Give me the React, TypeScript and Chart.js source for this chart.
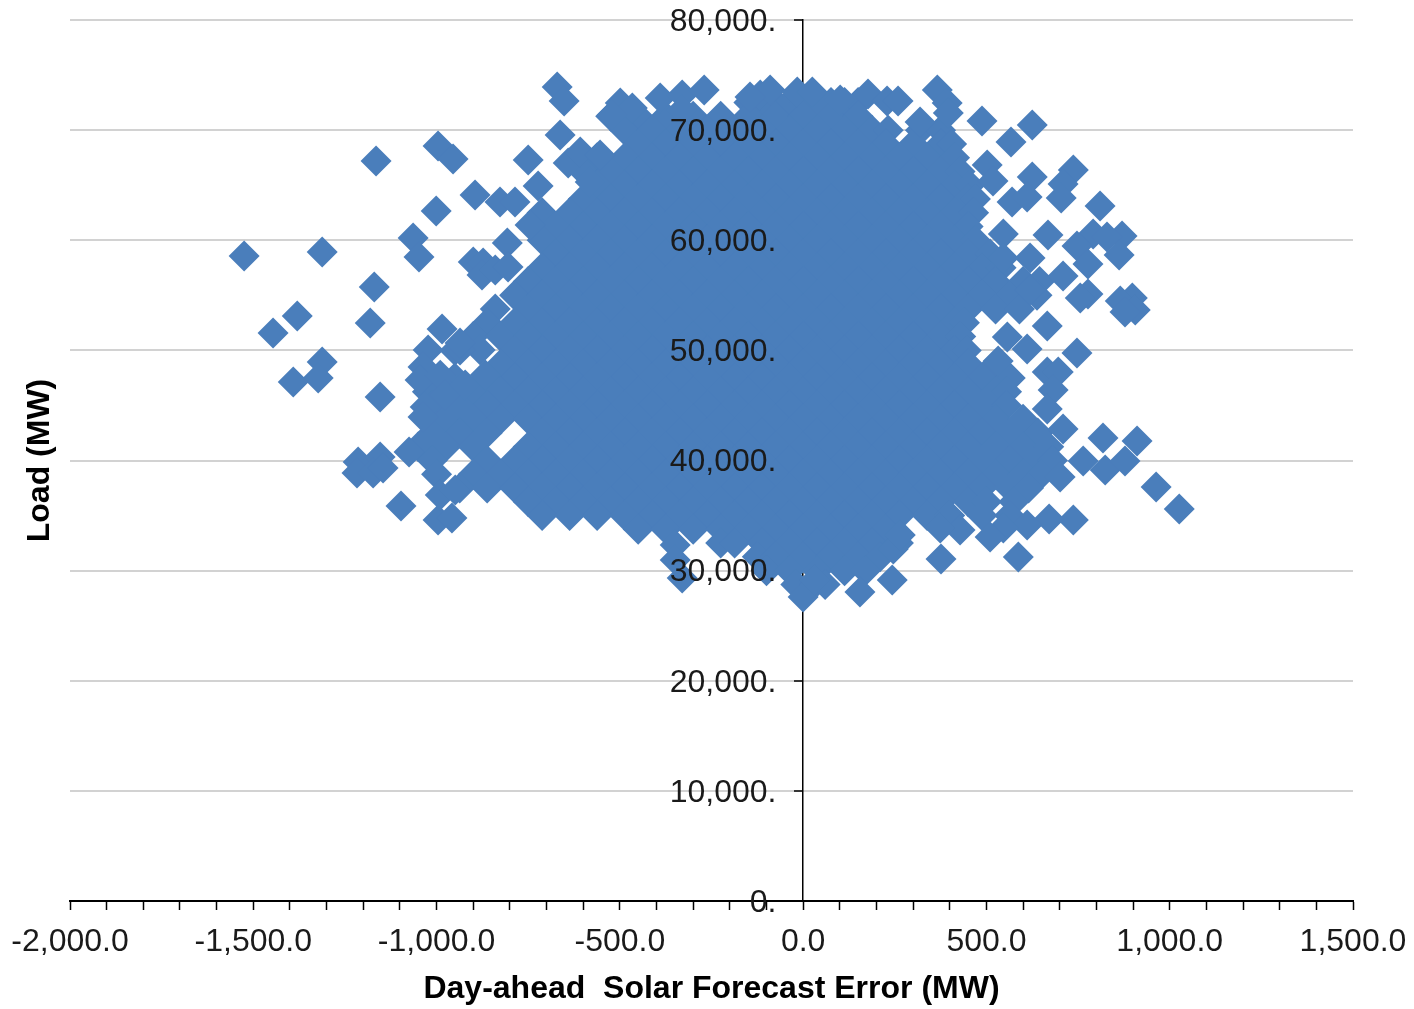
import React, { useEffect, useRef } from "react";
import { Chart, registerables } from "chart.js";

Chart.register(...registerables);

const xTickValues = [-2000, -1500, -1000, -500, 0, 500, 1000, 1500];
const xTitle = "Day-ahead  Solar Forecast Error (MW)";
const yTitle = "Load (MW)";

const edgeErrors = [
  -1525, -1312, -1165, -996, -955, -1001, -1064, -1048, -1170, -1181, -1380, -1446, -1312, -1323, -1391, -1154, -1097, -996, -958,
  -671, -652, -663, -750, -723, -895, -827, -786, -807, -900, -873, -876, -840, -805, -1214, -1217, -1154, -1173, -1146, -1075, -985,
  -499, -466, -521, -390, -330, -270, -330, -641, -608, -554, -581, -349, -349, -330, -745,
  -117, -90, -145, -16, 25, 101, 177, 229, 259, 366, 393, 396, 319, 0, 33, 155, 243, 246, 265,
  488, 625, 567, 737, 709, 704, 810, 625, 502, 518, 570, 611, 668, 870, 791, 747, 829, 862, 777, 709, 777, 756, 898, 865, 906, 878,
  666, 619, 747, 611, 557, 532, 666, 696, 682, 666, 709, 818, 911, 764, 824, 878, 701, 963, 1026, 737, 671, 611, 546, 510, 428, 374,
  376, 587, 546, 619, 546,
  -1023, -1037, -1045, -1031, -1037, -990, -977, -922, -867, -881, -936, -936, -990, -949,
];
const edgeLoads = [
  58566, 58930, 67190, 68550, 67370, 62650, 60200, 58475, 55750, 52480, 53120, 51570, 48940, 47490, 47120, 45760, 35870, 34600, 34780,
  73910, 72640, 69550, 67280, 64920, 64100, 63470, 63470, 59750, 58020, 57930, 56840, 57290, 57570, 39860, 38860, 40320, 38860, 39320, 40770, 51940,
  72460, 72000, 71370, 72910, 73180, 73640, 71820, 67010, 68010, 67740, 65290, 32320, 30960, 29330, 61380,
  73180, 73640, 73000, 73460, 73460, 72730, 73280, 72640, 72640, 73640, 72460, 71550, 70730, 27600, 29150, 28060, 29150, 31960, 33230,
  70820, 70460, 68920, 66370, 65100, 63830, 63110, 65740, 66830, 65380, 63470, 63920, 60470, 60380, 60560, 59470, 60290, 58660, 57840, 56750, 55110, 54750, 54750, 54480, 53660, 53480,
  52210, 55480, 49760, 50120, 51210, 49030, 48030, 48030, 46400, 44670, 42860, 42040, 41770, 39950, 39130, 39950, 38500, 37590, 35590, 34590, 34690, 34140, 33870, 33050, 33690, 33870,
  31050, 31240, 60560, 58380, 58380,
  50030, 48490, 47310, 44860, 43950, 47750, 45940, 46850, 47760, 50030, 50030, 50670, 36860, 37320,
];

const band72500 = [-148, -112, -74, -37, 5, 38, 76, 113, 150];
const band71250 = [-525, -450, -375, -300, -225, -150, -75, 0, 75, 150];
const band70000 = [-487, -412, -337, -262, -187, -112, -37, 38, 113, 188, 232, 320, 375];
const band68750 = [-450, -375, -300, -225, -150, -75, 0, 75, 150, 225, 300, 375, 405];
const band67500 = [-562, -487, -412, -337, -262, -187, -112, -37, 38, 113, 188, 263, 338, 413];
const band66250 = [-600, -525, -450, -375, -300, -225, -150, -75, 0, 75, 150, 225, 300, 375, 428];
const band65000 = [-562, -487, -412, -337, -262, -187, -112, -37, 38, 113, 188, 263, 338, 413, 455];
const band63750 = [-600, -525, -450, -375, -300, -225, -150, -75, 0, 75, 150, 225, 300, 375, 450, 470];
const band62500 = [-712, -637, -562, -487, -412, -337, -262, -187, -112, -37, 38, 113, 188, 263, 338, 413, 465];
const band61250 = [-675, -600, -525, -450, -375, -300, -225, -150, -75, 0, 75, 150, 225, 300, 375, 450];
const band60000 = [-712, -637, -562, -487, -412, -337, -262, -187, -112, -37, 38, 113, 188, 263, 338, 413, 470];
const band58750 = [-675, -600, -525, -450, -375, -300, -225, -150, -75, 0, 75, 150, 225, 300, 375, 450, 510];
const band57500 = [-712, -637, -562, -487, -412, -337, -262, -187, -112, -37, 38, 113, 188, 263, 338, 413, 488, 540];
const band56250 = [-750, -675, -600, -525, -450, -375, -300, -225, -150, -75, 0, 75, 150, 225, 300, 375, 450, 525, 600, 645];
const band55000 = [-787, -712, -637, -562, -487, -412, -337, -262, -187, -112, -37, 38, 113, 188, 263, 338, 413, 488, 563, 638];
const band53750 = [-840, -750, -675, -600, -525, -450, -375, -300, -225, -150, -75, 0, 75, 150, 225, 300, 375, 450, 525, 590];
const band52500 = [-862, -787, -712, -637, -562, -487, -412, -337, -262, -187, -112, -37, 38, 113, 188, 263, 338, 413, 440];
const band51250 = [-900, -825, -750, -675, -600, -525, -450, -375, -300, -225, -150, -75, 0, 75, 150, 225, 300, 375, 430];
const band50000 = [-950, -787, -712, -637, -562, -487, -412, -337, -262, -187, -112, -37, 38, 113, 188, 263, 338, 413, 445];
const band48750 = [-825, -750, -675, -600, -525, -450, -375, -300, -225, -150, -75, 0, 75, 150, 225, 300, 375, 450, 525];
const band47500 = [-950, -862, -787, -712, -637, -562, -487, -412, -337, -262, -187, -112, -37, 38, 113, 188, 263, 338, 413, 488, 565];
const band46250 = [-1025, -975, -900, -825, -750, -675, -600, -525, -450, -375, -300, -225, -150, -75, 0, 75, 150, 225, 300, 375, 450, 525, 555];
const band45000 = [-1012, -937, -862, -787, -712, -637, -562, -487, -412, -337, -262, -187, -112, -37, 38, 113, 188, 263, 338, 413, 488, 555];
const band43750 = [-1020, -975, -900, -825, -750, -675, -600, -525, -450, -375, -300, -225, -150, -75, 0, 75, 150, 225, 300, 375, 450, 525, 600];
const band42500 = [-1012, -937, -862, -712, -637, -562, -487, -412, -337, -262, -187, -112, -37, 38, 113, 188, 263, 338, 413, 488, 563, 640];
const band41250 = [-1050, -975, -900, -750, -675, -600, -525, -450, -375, -300, -225, -150, -75, 0, 75, 150, 225, 300, 375, 450, 525, 600, 670];
const band40000 = [-1012, -862, -787, -712, -637, -562, -487, -412, -337, -262, -187, -112, -37, 38, 113, 188, 263, 338, 413, 488, 563, 638, 680];
const band38750 = [-1000, -900, -825, -750, -675, -600, -525, -450, -375, -300, -225, -150, -75, 0, 75, 150, 225, 300, 375, 450, 525, 600, 650];
const band37500 = [-937, -862, -787, -712, -637, -562, -487, -412, -337, -262, -187, -112, -37, 38, 113, 188, 263, 338, 413, 488, 563, 615];
const band36250 = [-750, -675, -600, -525, -450, -375, -300, -225, -150, -75, 0, 75, 150, 225, 300, 375, 450, 500, 575];
const band35000 = [-712, -637, -562, -487, -412, -337, -262, -187, -112, -37, 38, 113, 188, 263, 338, 400, 488, 563];
const band33750 = [-450, -375, -300, -225, -150, -75, 0, 75, 150, 225];
const band32500 = [-225, -187, -112, -37, 38, 113, 188, 260];
const band31250 = [-125, -75, 0, 75, 150, 210];
const band30000 = [-100, -37, 38, 113, 170];
const band28750 = [-20, 30, 60];

const bandLoads = [72500, 71250, 70000, 68750, 67500, 66250, 65000, 63750, 62500, 61250, 60000, 58750, 57500, 56250, 55000, 53750, 52500, 51250, 50000, 48750, 47500, 46250, 45000, 43750, 42500, 41250, 40000, 38750, 37500, 36250, 35000, 33750, 32500, 31250, 30000, 28750];
const bandErrors = [band72500, band71250, band70000, band68750, band67500, band66250, band65000, band63750, band62500, band61250, band60000, band58750, band57500, band56250, band55000, band53750, band52500, band51250, band50000, band48750, band47500, band46250, band45000, band43750, band42500, band41250, band40000, band38750, band37500, band36250, band35000, band33750, band32500, band31250, band30000, band28750];

const clearPadding = (s: any) => {
  s.paddingTop = 0;
  s.paddingBottom = 0;
  s.paddingLeft = 0;
  s.paddingRight = 0;
};

export default function App() {
  const ref = useRef<HTMLCanvasElement | null>(null);
  useEffect(() => {
    if (!ref.current) return;
    const points: { x: number; y: number }[] = [];
    bandErrors.forEach((row, i) => row.forEach((x) => points.push({ x, y: bandLoads[i] })));
    edgeErrors.forEach((x, i) => points.push({ x, y: edgeLoads[i] }));
    const font = { family: "'Liberation Sans', Arial, sans-serif", size: 32 };
    const titleFont = { family: "'Liberation Sans', Arial, sans-serif", size: 32, weight: "bold" as const };
    const chart = new Chart(ref.current, {
      type: "scatter",
      data: {
        datasets: [
          {
            data: points,
            pointStyle: "rectRot",
            pointRadius: 15.5,
            pointBackgroundColor: "#4a7ebb",
            pointBorderColor: "#4a7ebb",
            pointBorderWidth: 0,
          },
        ],
      },
      options: {
        responsive: false,
        animation: false,
        layout: { padding: { left: 0, right: 61, top: 20, bottom: 0 } },
        plugins: { legend: { display: false }, tooltip: { enabled: false } },
        scales: {
          x: {
            type: "linear",
            min: xTickValues[0],
            max: xTickValues[xTickValues.length - 1],
            afterFit: (s: any) => {
              s.height = 108;
              clearPadding(s);
            },
            border: { color: "#000", width: 2 },
            grid: { drawOnChartArea: false, tickLength: 9, tickColor: "#000", tickWidth: 1.5 },
            ticks: {
              stepSize: 100,
              autoSkip: false,
              maxRotation: 0,
              minRotation: 0,
              padding: 13,
              color: "#1a1a1a",
              font,
              callback: (v: any) =>
                xTickValues.includes(Number(v))
                  ? Number(v).toLocaleString("en-US", { minimumFractionDigits: 1, maximumFractionDigits: 1 })
                  : "",
            },
            title: { display: true, text: xTitle, color: "#000", font: titleFont, padding: { top: 0, bottom: 1 } },
          },
          y: {
            type: "linear",
            position: { x: 0 } as any,
            min: 0,
            max: 80000,
            afterFit: (s: any) => {
              clearPadding(s);
            },
            border: { color: "#000", width: 1.5 },
            grid: { color: "#d2d2d2", lineWidth: 2, tickLength: 8, tickColor: "#000", tickWidth: 1.5 },
            ticks: {
              stepSize: 10000,
              labelOffset: 2,
              color: "#1a1a1a",
              font,
              z: 1,
              callback: (v: any) => Number(v).toLocaleString("en-US") + ".   ",
            },
          },
          y2: {
            type: "linear",
            axis: "y",
            position: "left",
            min: 0,
            max: 80000,
            afterFit: (s: any) => {
              s.width = 70;
              clearPadding(s);
            },
            border: { display: false },
            grid: { display: false },
            ticks: { display: false },
            title: { display: true, text: yTitle, color: "#000", font: titleFont, padding: { top: 21, bottom: 0 } },
          },
        },
      } as any,
    });
    return () => chart.destroy();
  }, []);
  return (
    <div style={{ position: "absolute", left: 0, top: 0, width: 1414, height: 1009 }}>
      <canvas ref={ref} width={1414} height={1009} style={{ display: "block" }} />
    </div>
  );
}
